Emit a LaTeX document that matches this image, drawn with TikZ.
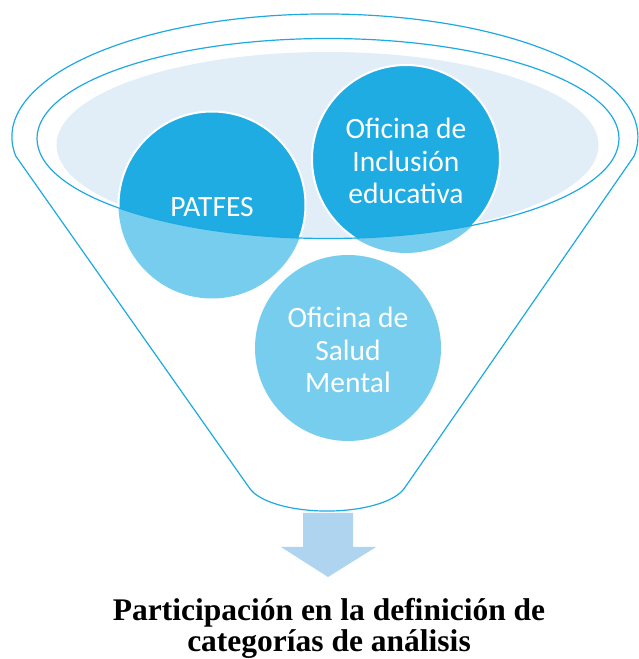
\documentclass[tikz,border=0pt]{standalone}
\usepackage{fontspec}
\setmainfont{Liberation Serif}
\newfontfamily\circfont{Carlito}
\definecolor{lineblue}{HTML}{1FA9E1}
\definecolor{darkcirc}{HTML}{1EACE3}
\definecolor{lightcirc}{HTML}{77CDEE}
\definecolor{paleblue}{HTML}{E1EEF8}
\definecolor{arrowblue}{HTML}{AED4F0}
\tikzset{
  outline/.style={draw=lineblue, line width=1.2pt},
  circtext/.style={text=white, font=\circfont\fontsize{29.5}{32.5}\selectfont, align=center},
  titletext/.style={font=\bfseries\fontsize{31.5}{32}\selectfont, anchor=base}
}
\begin{document}
\begin{tikzpicture}[x=1pt,y=1pt]
\useasboundingbox (0,0) rectangle (638,659);
% funnel body
\draw[outline, fill=white] (15.7,503) arc[start angle=188.9, end angle=-8.9, x radius=313, y radius=123]
  -- (404,170.2) arc[start angle=-15.7, end angle=-164.3, x radius=80, y radius=30.5] -- cycle;
% pale inner fill
\fill[paleblue] (327.5,514) ellipse[x radius=271, y radius=93];
% circles (light part)
\coordinate (cP) at (212,454);
\coordinate (cI) at (406,500);
\coordinate (cS) at (348,311);
\fill[lightcirc] (cP) circle[radius=93.5];
\fill[lightcirc] (cI) circle[radius=94];
% dark parts inside the funnel mouth
\begin{scope}
  \clip (328,520.5) ellipse[x radius=291, y radius=100];
  \filldraw[fill=darkcirc, draw=white, line width=2pt] (cP) circle[radius=93.5];
  \filldraw[fill=darkcirc, draw=white, line width=2pt] (cI) circle[radius=94];
\end{scope}
\fill[lightcirc] (cS) circle[radius=93];
% inner rim
\draw[outline] (328,520.5) ellipse[x radius=291, y radius=100];
% texts
\node[circtext] (patfes) at (212,452) {PATFES};
\node[circtext] (incl) at (406,498) {Oficina de\\Inclusión\\educativa};
\node[circtext] (salud) at (348,309) {Oficina de\\Salud\\Mental};
% arrow
\fill[arrowblue] (303,146) -- (353,146) -- (353,112) -- (376,112) -- (328,82) -- (281,112) -- (303,112) -- cycle;
% title
\node[titletext] (t1) at (329,38) {Participación en la definición de};
\node[titletext] (t2) at (329,7) {categorías de análisis};
\end{tikzpicture}
\end{document}
